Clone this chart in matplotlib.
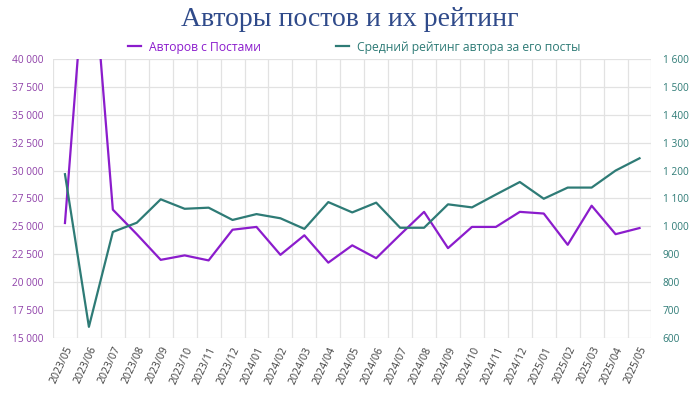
import matplotlib.pyplot as plt
from matplotlib.ticker import FuncFormatter, MultipleLocator

months = ['2023/05', '2023/06', '2023/07', '2023/08', '2023/09', '2023/10', '2023/11',
          '2023/12', '2024/01', '2024/02', '2024/03', '2024/04', '2024/05', '2024/06',
          '2024/07', '2024/08', '2024/09', '2024/10', '2024/11', '2024/12', '2025/01',
          '2025/02', '2025/03', '2025/04', '2025/05']

# authors with posts (left axis), second value goes far off the top of the chart
authors = [25300, 53000, 26500, 24300, 22000, 22400, 21950, 24700, 24950, 22450,
           24200, 21750, 23300, 22150, 24250, 26300, 23050, 24950, 24950, 26300,
           26150, 23350, 26850, 24300, 24850]

# average author rating (right axis)
rating = [1187, 640, 980, 1013, 1097, 1063, 1067, 1023, 1044, 1029, 991, 1087, 1050,
          1085, 995, 995, 1079, 1068, 1114, 1159, 1099, 1139, 1139, 1200, 1244]

purple = '#8b1ccc'
teal = '#2e7b76'
grid_c = '#e2e2e2'


def spaced(v, pos):
    return '{:,.0f}'.format(v).replace(',', ' ')


fig = plt.figure(figsize=(7, 3.93), dpi=100)
ax = fig.add_axes([0.0757, 0.14, 0.855, 0.71])
ax2 = ax.twinx()

x = list(range(len(months)))
l1, = ax.plot(x, authors, color=purple, lw=1.6, label='Авторов с Постами')
l2, = ax2.plot(x, rating, color=teal, lw=1.6, label='Средний рейтинг автора за его посты')

ax.set_xlim(-0.5, len(months) - 0.5)
ax.set_ylim(15000, 40000)
ax2.set_ylim(600, 1600)
ax.yaxis.set_major_locator(MultipleLocator(2500))
ax2.yaxis.set_major_locator(MultipleLocator(100))
ax.yaxis.set_major_formatter(FuncFormatter(spaced))
ax2.yaxis.set_major_formatter(FuncFormatter(spaced))

ax.set_xticks(x)
ax.set_xticklabels(months, rotation=65, ha='right', rotation_mode='anchor',
                   fontsize=7.6, color='#404040', family='Open Sans')
ax.set_xticks([i + 0.5 for i in range(-1, len(months))], minor=True)
ax.grid(True, which='minor', axis='x', color=grid_c, lw=0.9)
ax.grid(True, which='major', axis='y', color=grid_c, lw=0.9)
ax.set_axisbelow(True)

ax.tick_params(axis='x', which='both', length=0, pad=5)
ax.tick_params(axis='y', length=0, labelsize=7.3, labelcolor='#8e3fa8', pad=7)
ax2.tick_params(axis='y', length=0, labelsize=7.3, labelcolor=teal, pad=8)
for lab in ax.get_yticklabels() + ax2.get_yticklabels():
    lab.set_family('Open Sans')

for a in (ax, ax2):
    for s in a.spines.values():
        s.set_visible(False)

fig.text(0.5, 0.934, 'Авторы постов и их рейтинг', ha='center', va='baseline',
         fontsize=20, color='#2f4a8a', family='Liberation Serif')

leg = fig.legend(handles=[l1, l2], loc='center', bbox_to_anchor=(0.506, 0.88), ncol=2,
                 frameon=False, handlelength=1.07, handletextpad=0.66, columnspacing=6.2,
                 prop={'family': 'Open Sans', 'size': 8.7})
for t, c in zip(leg.get_texts(), [purple, teal]):
    t.set_color(c)

fig.savefig('out.png', dpi=100)
